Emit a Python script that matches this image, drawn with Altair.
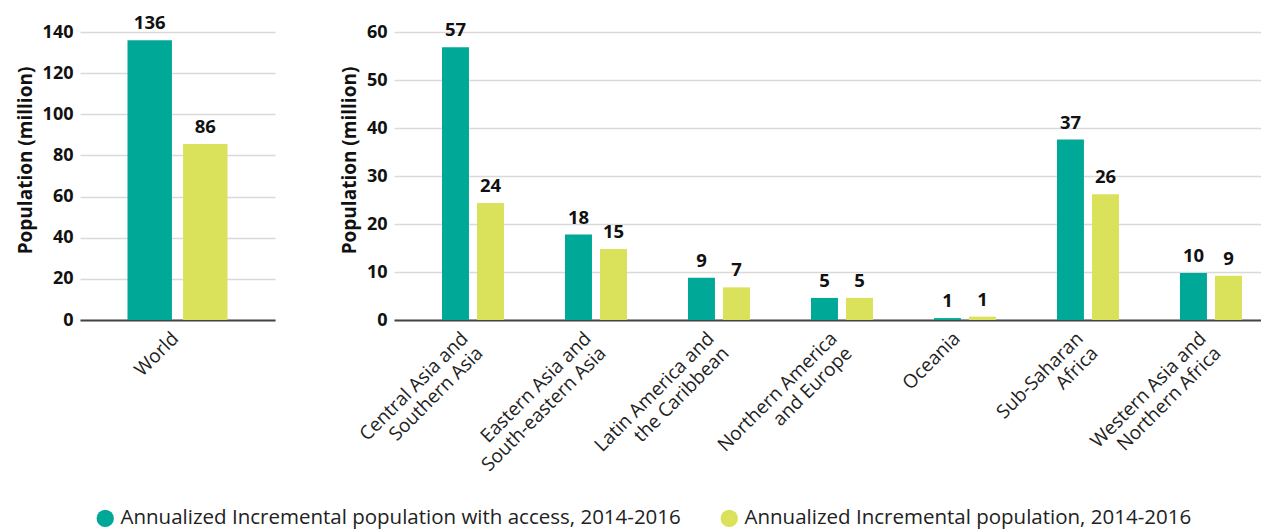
import altair as alt
import pandas as pd

S1 = "Annualized Incremental population with access, 2014-2016"
S2 = "Annualized Incremental population, 2014-2016"
TEAL = "#00A897"
YELLOW = "#DAE15B"

world_cats = ["World"]
world_access = [136]
world_pop = [85.6]
world_access_lbl = ["136"]
world_pop_lbl = ["86"]

regions = [
    "Central Asia and\nSouthern Asia",
    "Eastern Asia and\nSouth-eastern Asia",
    "Latin America and\nthe Caribbean",
    "Northern America\nand Europe",
    "Oceania",
    "Sub-Saharan\nAfrica",
    "Western Asia and\nNorthern Africa",
]
reg_access = [56.8, 17.8, 8.8, 4.6, 0.4, 37.6, 9.8]
reg_pop = [24.4, 14.8, 6.8, 4.6, 0.7, 26.2, 9.2]
reg_access_lbl = ["57", "18", "9", "5", "1", "37", "10"]
reg_pop_lbl = ["24", "15", "7", "5", "1", "26", "9"]


def make_df(cats, a, p, al, pl):
    rows = []
    for c, v1, v2, l1, l2 in zip(cats, a, p, al, pl):
        rows.append({"region": c, "series": S1, "value": v1, "label": l1})
        rows.append({"region": c, "series": S2, "value": v2, "label": l2})
    return pd.DataFrame(rows)


df_w = make_df(world_cats, world_access, world_pop, world_access_lbl, world_pop_lbl)
df_r = make_df(regions, reg_access, reg_pop, reg_access_lbl, reg_pop_lbl)

FONT = "Open Sans"

color = alt.Color(
    "series:N",
    scale=alt.Scale(domain=[S1, S2], range=[TEAL, YELLOW]),
    sort=[S1, S2],
    legend=alt.Legend(
        title=None,
        orient="none",
        legendX=15,
        legendY=476,
        direction="horizontal",
        symbolType="circle",
        symbolSize=300,
        symbolStrokeWidth=0,
        labelFontSize=20.5,
        labelFont=FONT,
        labelColor="#222222",
        columnPadding=38,
        labelOffset=5,
        labelLimit=0,
    ),
)


def panel(df, cats, ymax, ystep, width, xscale, offpad, lbl_off):
    base = alt.Chart(df)
    x = alt.X(
        "region:N",
        sort=cats,
        scale=xscale,
        axis=alt.Axis(
            title=None,
            labelAngle=315,
            labelAlign="right",
            labelBaseline="middle",
            labelExpr="split(datum.label, '\\n')",
            labelFontSize=19,
            labelFont=FONT,
            labelColor="#222222",
            labelLineHeight=21,
            labelPadding=15,
            labelOffset=lbl_off,
            labelLimit=0,
            ticks=False,
            domainColor="#444444",
            domainWidth=2,
            grid=False,
        ),
    )
    xo = alt.XOffset(
        "series:N", sort=[S1, S2], scale=alt.Scale(paddingInner=offpad, paddingOuter=0)
    )
    y = alt.Y(
        "value:Q",
        scale=alt.Scale(domain=[0, ymax], nice=False),
        axis=alt.Axis(
            title="Population (million)",
            values=list(range(0, ymax + 1, ystep)),
            titleFontSize=19,
            titleFont=FONT,
            titleFontWeight="bold",
            titleColor="#111111",
            titlePadding=7,
            titleY=128,
            labelFontSize=18,
            labelFont=FONT,
            labelFontWeight="bold",
            labelColor="#111111",
            labelPadding=7,
            ticks=False,
            domain=False,
            gridColor="#d9d9d9",
            gridWidth=1.5,
        ),
    )
    bars = base.mark_bar().encode(x=x, xOffset=xo, y=y, color=color)
    text = base.mark_text(
        baseline="bottom", dy=-7, fontSize=18.5, fontWeight="bold", font=FONT, color="#111111"
    ).encode(x=x, xOffset=xo, y=y, text="label:N")
    return (bars + text).properties(
        width=width,
        height=288,
        view=alt.ViewBackground(stroke="#ffffff", strokeOpacity=0, strokeWidth=0),
    )


left = panel(
    df_w, world_cats, 140, 20, 195,
    alt.Scale(paddingInner=0, paddingOuter=0.475), 0.2, -2,
)
right = panel(
    df_r, regions, 60, 10, 867,
    alt.Scale(paddingInner=0.496, paddingOuter=0.2725, align=0.716), 0.23, -8,
)

chart = (
    alt.hconcat(left, right, spacing=65)
    .resolve_scale(x="independent", y="independent", xOffset="independent")
    .properties(padding={"left": 16, "top": 14, "right": 0, "bottom": 0})
    .configure_view(stroke="#ffffff", strokeOpacity=0, strokeWidth=0)
    .configure_axisX(grid=False)
    .configure(font=FONT)
)

chart.save("out.html", embed_options={"renderer": "svg", "actions": False})
